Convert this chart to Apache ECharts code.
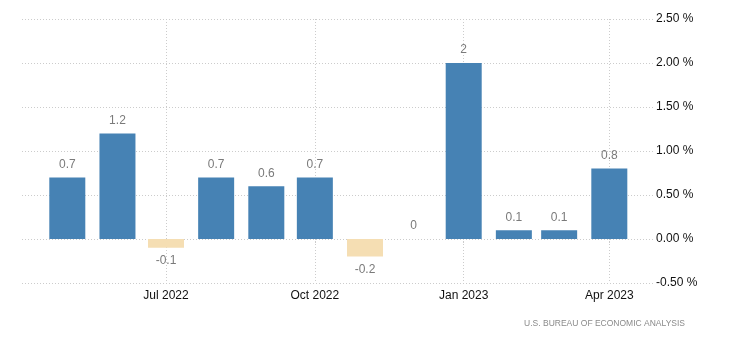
<!DOCTYPE html>
<html>
<head>
<meta charset="utf-8">
<script src="https://cdn.jsdelivr.net/npm/echarts@6/dist/echarts.min.js"></script>
<style>
html,body{margin:0;padding:0;background:#fff;}
#chart{width:730px;height:349px;}
</style>
</head>
<body>
<div id="chart"></div>
<script>
const months = ['2022-05','2022-06','2022-07','2022-08','2022-09','2022-10','2022-11','2022-12','2023-01','2023-02','2023-03','2023-04'];
const values = [0.7, 1.2, -0.1, 0.7, 0.6, 0.7, -0.2, 0, 2, 0.1, 0.1, 0.8];
const yTicks = [-0.5, 0, 0.5, 1, 1.5, 2, 2.5];
const axisStart = '2022-04-03';
const axisEnd = '2023-04-28';
const sourceText = 'U.S. BUREAU OF ECONOMIC ANALYSIS';
const monthNames = ['Jan','Feb','Mar','Apr','May','Jun','Jul','Aug','Sep','Oct','Nov','Dec'];

function ts(s) {
  const p = s.split('-').map(Number);
  return new Date(p[0], p[1] - 1, p[2] || 1).getTime();
}

const chart = echarts.init(document.getElementById('chart'), null, {renderer: 'canvas'});
const FONT = '"Liberation Sans", Arial, sans-serif';
const BAR_W = 36;

const data = months.map((m, i) => [ts(m), values[i]]);

chart.setOption({
  animation: false,
  grid: {left: 22, right: 77, top: 19, bottom: 66, containLabel: false},
  xAxis: {
    type: 'time',
    min: ts(axisStart),
    max: ts(axisEnd),
    splitNumber: 4,
    axisLine: {show: false},
    axisTick: {show: true, length: 4, lineStyle: {color: '#cccccc', type: [1, 2]}},
    splitLine: {show: true, showMinLine: false, showMaxLine: false, lineStyle: {color: '#cccccc', type: [1, 2], width: 1}},
    axisLabel: {
      margin: 7,
      color: '#111',
      fontSize: 12,
      fontFamily: FONT,
      showMinLabel: false,
      showMaxLabel: false,
      formatter: function (v) {
        const d = new Date(v);
        return monthNames[d.getMonth()] + ' ' + d.getFullYear();
      }
    }
  },
  yAxis: {
    type: 'value',
    position: 'right',
    min: yTicks[0],
    max: yTicks[yTicks.length - 1],
    interval: 0.5,
    axisLine: {show: false},
    axisTick: {show: false},
    splitLine: {show: true, lineStyle: {color: '#cccccc', type: [1, 2], width: 1}},
    axisLabel: {
      margin: 3,
      color: '#111',
      fontSize: 12,
      fontFamily: FONT,
      formatter: function (v) { return v.toFixed(2) + ' %'; }
    }
  },
  series: [{
    type: 'custom',
    data: data,
    encode: {x: 0, y: 1},
    renderItem: function (params, api) {
      const x = api.value(0);
      const v = api.value(1);
      const top = api.coord([x, v]);
      const base = api.coord([x, 0]);
      const neg = v < 0;
      return {
        type: 'group',
        children: [{
          type: 'rect',
          shape: {
            x: top[0] - BAR_W / 2,
            y: Math.min(top[1], base[1]),
            width: BAR_W,
            height: Math.abs(base[1] - top[1])
          },
          style: {fill: neg ? '#F5DEB3' : '#4682B4'}
        }, {
          type: 'text',
          x: top[0],
          y: neg ? top[1] + 7 : top[1] - 7,
          style: {
            text: String(v),
            textAlign: 'center',
            textVerticalAlign: neg ? 'top' : 'bottom',
            fill: '#7a7a7a',
            fontSize: 12,
            fontFamily: FONT
          }
        }]
      };
    }
  }],
  graphic: [{
    type: 'text',
    right: 45,
    top: 319,
    style: {
      text: sourceText,
      fill: '#8a8a8a',
      fontSize: 8.5,
      fontFamily: FONT
    }
  }]
});
</script>
</body>
</html>
